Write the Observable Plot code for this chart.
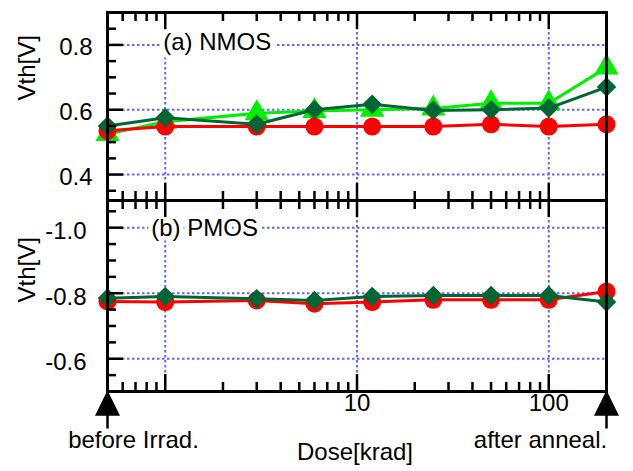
<!DOCTYPE html>
<html><head><meta charset="utf-8">
<script src="https://cdn.jsdelivr.net/npm/d3@7"></script>
<script src="https://cdn.jsdelivr.net/npm/@observablehq/plot@0.6"></script>
<style>
body{margin:0;background:#fff;}
#chart{width:633px;height:471px;}
#chart svg{display:block;overflow:visible;}
</style>
</head><body><div id="chart"></div>
<script>
// ---- data ----
const doses = [0.5, 1, 3, 6, 12, 25, 50, 100, 200];
const nmosCircle   = [0.535, 0.548, 0.548, 0.548, 0.548, 0.548, 0.555, 0.548, 0.555];
const nmosTriangle = [0.525, 0.563, 0.589, 0.596, 0.600, 0.604, 0.620, 0.620, 0.730];
const nmosDiamond  = [0.550, 0.575, 0.555, 0.600, 0.617, 0.598, 0.600, 0.605, 0.670];
const pmosCircle   = [-0.775, -0.773, -0.778, -0.768, -0.773, -0.780, -0.780, -0.780, -0.805];
const pmosDiamond  = [-0.785, -0.790, -0.783, -0.778, -0.790, -0.793, -0.793, -0.793, -0.773];

const xMajor = [1, 10, 100];
const xMinor = [0.6, 0.7, 0.8, 0.9, 2, 3, 4, 5, 6, 7, 8, 9, 20, 30, 40, 50, 60, 70, 80, 90];
const xTickLabels = [10, 100];
const startLabel = ["before Irrad."], startDose = [0.5];
const endLabel = ["after anneal."], endDose = [200];
const arrowDoses = [0.5, 200];
const xTitle = ["Dose[krad]"];
const yTitle = ["Vth[V]"];
const nmosYMajor = [0.4, 0.6, 0.8];
const nmosYMinor = [0.35, 0.45, 0.5, 0.55, 0.65, 0.7, 0.75, 0.85];
const pmosYMajor = [-1.0, -0.8, -0.6];
const pmosYMinor = [-1.05, -0.95, -0.9, -0.85, -0.75, -0.7, -0.65, -0.55];
const nmosLabel = ["(a) NMOS"];
const pmosLabel = ["(b) PMOS"];

// ---- style ----
const RED = "#ff0000", LIME = "#00ee00", DARK = "#006633", GRID = "#6464ff";
const FONT = "'Liberation Sans', Arial, Helvetica, sans-serif";
const W = 633, ML = 107, MR = 27;
const PW = W - ML - MR;

const rows = vals => doses.map((d, i) => ({dose: d, v: vals[i]}));

function series(vals, color, symbol, r) {
  return [
    Plot.line(rows(vals), {x: "dose", y: "v", stroke: color, strokeWidth: 3}),
    Plot.dot(rows(vals), {x: "dose", y: "v", fill: color, symbol, r})
  ];
}

function gridMarks(yMajor) {
  return [
    Plot.ruleX(xMajor, {x: d => d, stroke: GRID, strokeWidth: 2, strokeDasharray: "2.5,2.5"}),
    Plot.ruleY(yMajor, {y: d => d, stroke: GRID, strokeWidth: 2, strokeDasharray: "2.5,2.5"})
  ];
}

function tickMarks(ph, yMajor, yMinor) {
  const t = {stroke: "black", strokeWidth: 2.5};
  return [
    Plot.tickX(xMinor, {x: d => d, insetTop: ph - 9, ...t}),
    Plot.tickX(xMajor, {x: d => d, insetTop: ph - 17, ...t}),
    Plot.tickX(xMinor, {x: d => d, insetBottom: ph - 9, ...t}),
    Plot.tickX(xMajor, {x: d => d, insetBottom: ph - 17, ...t}),
    Plot.tickY(yMinor, {y: d => d, insetRight: PW - 9, ...t}),
    Plot.tickY(yMajor, {y: d => d, insetRight: PW - 16, ...t}),
    Plot.frame({stroke: "black", strokeWidth: 3})
  ];
}

const fmt = d => d.toFixed(1);

// ---- top panel (NMOS) ----
const topH = 200;
const nmosPlot = Plot.plot({
  width: W, height: topH,
  marginLeft: ML, marginRight: MR, marginTop: 12, marginBottom: 0,
  style: {fontFamily: FONT, background: "transparent", overflow: "visible"},
  x: {type: "log", domain: [0.5, 200], axis: null},
  y: {domain: [0.32, 0.9], axis: null},
  marks: [
    ...gridMarks(nmosYMajor),
    Plot.text(nmosLabel, {x: () => 1, y: () => 0.8, text: d => d, textAnchor: "start", dx: -2, dy: -2.5,
      fontSize: 24, fill: "black", stroke: "white", strokeWidth: 9, paintOrder: "stroke"}),
    ...series(nmosTriangle, LIME, "triangle", 9),
    ...series(nmosCircle, RED, "circle", 9),
    ...series(nmosDiamond, DARK, "diamond2", 8.8),
    ...tickMarks(topH - 12, nmosYMajor, nmosYMinor),
    Plot.text(nmosYMajor, {y: d => d, text: fmt, frameAnchor: "left", textAnchor: "end", dx: -15, dy: 2.5, fontSize: 24, fill: "black"}),
    Plot.text(yTitle, {text: d => d, frameAnchor: "left", rotate: -90, dx: -80, dy: -6, fontSize: 24, fill: "black"})
  ]
});

// ---- bottom panel (PMOS) ----
const botH = 271, botMB = 80;
const arrowSymbol = {
  draw(ctx) {
    ctx.moveTo(0, 1.5); ctx.lineTo(10.5, 23); ctx.lineTo(-10.5, 23); ctx.closePath();
    ctx.moveTo(0, 23); ctx.lineTo(0, 37);
  }
};
const pmosPlot = Plot.plot({
  width: W, height: botH,
  marginLeft: ML, marginRight: MR, marginTop: 0, marginBottom: botMB,
  style: {fontFamily: FONT, background: "transparent", overflow: "visible"},
  x: {type: "log", domain: [0.5, 200], axis: null},
  y: {domain: [-1.083, -0.5], reverse: true, axis: null},
  marks: [
    ...gridMarks(pmosYMajor),
    Plot.text(pmosLabel, {x: () => 1, y: () => -1.0, text: d => d, textAnchor: "start", dx: -14, dy: 0.5,
      fontSize: 24, fill: "black", stroke: "white", strokeWidth: 9, paintOrder: "stroke"}),
    ...series(pmosCircle, RED, "circle", 9),
    ...series(pmosDiamond, DARK, "diamond2", 8.8),
    ...tickMarks(botH - botMB, pmosYMajor, pmosYMinor),
    Plot.text(pmosYMajor, {y: d => d, text: fmt, frameAnchor: "left", textAnchor: "end", dx: -21, dy: 4, fontSize: 24, fill: "black"}),
    Plot.text(yTitle, {text: d => d, frameAnchor: "left", rotate: -90, dx: -80, dy: 6.5, fontSize: 24, fill: "black"}),
    Plot.text(xTickLabels, {x: d => d, text: d => String(d), frameAnchor: "bottom", dy: 19, fontSize: 24, fill: "black"}),
    Plot.dot(arrowDoses, {x: d => d, frameAnchor: "bottom", symbol: arrowSymbol, r: 5, fill: "black", stroke: "black", strokeWidth: 2.5}),
    Plot.text(startLabel, {x: (d, i) => startDose[i], text: d => d, frameAnchor: "bottom", dx: 26, dy: 56, fontSize: 24, fill: "black"}),
    Plot.text(endLabel, {x: (d, i) => endDose[i], text: d => d, frameAnchor: "bottom", dx: -66, dy: 56, fontSize: 24, fill: "black"}),
    Plot.text(xTitle, {text: d => d, frameAnchor: "bottom", dx: -2, dy: 68, fontSize: 24, fill: "black"})
  ]
});

const chart = document.getElementById("chart");
chart.appendChild(nmosPlot);
chart.appendChild(pmosPlot);
</script>
</body></html>
